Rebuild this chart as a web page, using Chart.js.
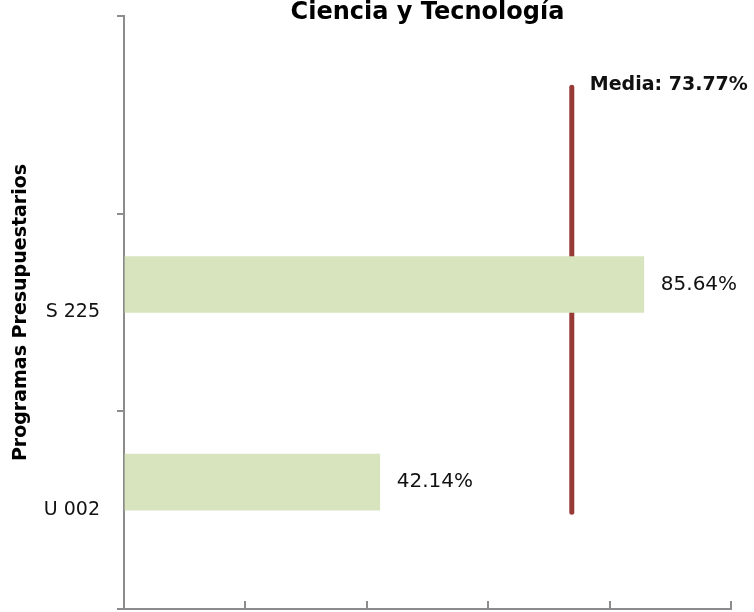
<!DOCTYPE html>
<html>
<head>
<meta charset="utf-8">
<script src="https://cdn.jsdelivr.net/npm/chart.js@4/dist/chart.umd.min.js"></script>
<style>
  html, body { margin: 0; padding: 0; background: #fff; }
  #wrap { width: 754px; height: 612px; position: relative; }
</style>
</head>
<body>
<div id="wrap"><canvas id="chart"></canvas></div>
<script>
const programas = ['', 'S 225', 'U 002'];
const avance = [null, 85.64, 42.14];
const media = 73.77;
// vertical extent of the mean line, on a hidden 0..3 axis
const mediaDesde = 0.49;
const mediaHasta = 2.64;
const xTicks = [0, 20, 40, 60, 80, 100];

const gris = '#8c8c8c';
const fuente = 'DejaVu Sans';

const etiquetas = {
    id: 'etiquetas',
    afterDatasetsDraw(chart) {
        const ctx = chart.ctx;
        ctx.save();
        ctx.fillStyle = '#111';
        ctx.textBaseline = 'middle';
        ctx.textAlign = 'left';
        ctx.font = `20px "${fuente}"`;
        chart.getDatasetMeta(0).data.forEach((bar, i) => {
            if (avance[i] === null) return;
            ctx.fillText(avance[i].toFixed(2) + '%', bar.x + 17, bar.y);
        });
        const top = chart.getDatasetMeta(1).data[1];
        ctx.font = `bold 19px "${fuente}"`;
        ctx.fillText('Media: ' + media.toFixed(2) + '%', top.x + 18, top.y - 2);
        ctx.restore();
    }
};

new Chart(document.getElementById('chart'), {
    type: 'bar',
    data: {
        labels: programas,
        datasets: [
            {
                label: 'Avance',
                data: avance,
                backgroundColor: '#d7e4bd',
                barThickness: 56
            },
            {
                type: 'line',
                label: 'Media',
                data: [{ x: media, y: mediaDesde }, { x: media, y: mediaHasta }],
                yAxisID: 'y2',
                borderColor: '#983a36',
                borderWidth: 5,
                borderCapStyle: 'round',
                pointRadius: 0,
                fill: false
            }
        ]
    },
    options: {
        indexAxis: 'y',
        responsive: true,
        maintainAspectRatio: false,
        devicePixelRatio: 1,
        animation: false,
        layout: { padding: { left: 0, right: 23, top: 2, bottom: 0 } },
        plugins: {
            legend: { display: false },
            tooltip: { enabled: false },
            title: {
                display: true,
                text: 'Ciencia y Tecnología',
                fullSize: false,
                color: '#000',
                font: { family: fuente, size: 24, weight: 'bold' },
                padding: { top: -4, bottom: -10.8 }
            }
        },
        scales: {
            x: {
                type: 'linear',
                min: 0,
                max: 100,
                afterBuildTicks: s => { s.ticks = xTicks.map(v => ({ value: v })); },
                ticks: { display: false },
                grid: { drawOnChartArea: false, tickLength: -8, color: gris, lineWidth: 2 },
                border: { color: gris, width: 2 },
                afterFit: s => { s.height = 3; s.paddingLeft = 0; s.paddingRight = 0; }
            },
            y: {
                type: 'category',
                offset: true,
                ticks: {
                    color: '#111',
                    padding: 17,
                    font: { family: fuente, size: 19 }
                },
                grid: { drawOnChartArea: false, offset: true, tickLength: 7, color: gris, lineWidth: 2 },
                border: { color: gris, width: 2 },
                title: {
                    display: true,
                    text: 'Programas Presupuestarios',
                    color: '#000',
                    font: { family: fuente, size: 19, weight: 'bold' },
                    padding: { top: 10, bottom: 0 }
                },
                afterFit: s => { s.width = 124; s.paddingTop = 0; s.paddingBottom = 0; }
            },
            y2: {
                type: 'linear',
                display: false,
                offset: false,
                grace: 0,
                min: 0,
                max: 3
            }
        }
    },
    plugins: [etiquetas]
});
</script>
</body>
</html>
